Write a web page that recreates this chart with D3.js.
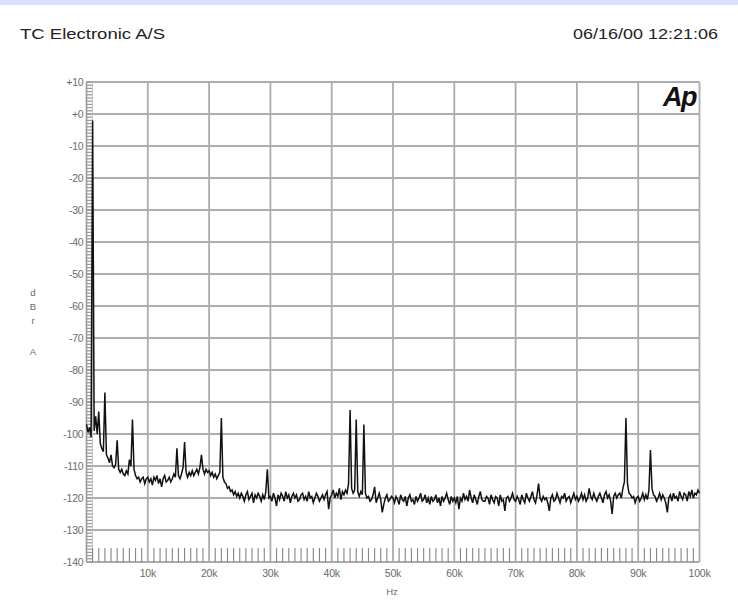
<!DOCTYPE html>
<html>
<head>
<meta charset="utf-8">
<script src="https://cdn.jsdelivr.net/npm/d3@7"></script>
<style>
  html, body { margin: 0; padding: 0; background: #fff; }
  svg { display: block; }
</style>
</head>
<body>
<svg id="chart" width="738" height="600"></svg>
<script>
// ---------- data ----------
const headerLeft = "TC Electronic A/S";
const headerRight = "06/16/00 12:21:06";
const yAxisTitle = ["d", "B", "r", "A"];
const xAxisTitle = "Hz";
const yTicks = [10, 0, -10, -20, -30, -40, -50, -60, -70, -80, -90, -100, -110, -120, -130, -140];
const yTickLabels = ["+10", "+0", "-10", "-20", "-30", "-40", "-50", "-60", "-70", "-80", "-90", "-100", "-110", "-120", "-130", "-140"];
const xTicks = [10, 20, 30, 40, 50, 60, 70, 80, 90, 100];           // kHz
const xTickLabels = ["10k", "20k", "30k", "40k", "50k", "60k", "70k", "80k", "90k", "100k"];
const freqStartKHz = 0;
const freqStepKHz = 0.25;
// FFT level (dBrA), one value per 0.25 kHz bin, 0 .. 100 kHz
const levels = [
  -97, -99.5, -98, -101, -2, -99, -94.5, -100, -93, -103, -104.5, -105.5, -87, -106.5, -107.5, -109, -106.5, -110, -110.5, -109.5,
  -102, -111, -112, -111, -112.5, -113, -111.5, -112.5, -108, -110, -95.5, -111, -113, -114, -113.5, -115, -114, -113.5, -115.5, -114,
  -113.5, -115, -114, -116, -113.5, -114.5, -113, -115.5, -114, -116.5, -114, -113, -115, -114.5, -113.5, -115, -114, -112.5, -113.5, -104.5,
  -113, -114, -112.5, -110.5, -102.5, -112, -113.5, -112, -113, -111.5, -113, -112, -111, -112.5, -110.5, -106.5, -111, -112.5, -111, -112,
  -111.5, -113, -112, -113.5, -112.5, -114, -113, -112, -95, -113.5, -115, -115.5, -117, -116.5, -118, -117.5, -119, -118, -119.5, -118.5,
  -120, -118.5, -119.5, -121, -119, -118, -120.5, -119.5, -118.5, -121.5, -119, -120, -118.5, -119.5, -121, -119, -120.5, -118, -111, -120,
  -119.5, -121, -118.5, -120, -122.5, -119, -120.5, -118.5, -119.5, -121, -118, -120, -119, -121.5, -119.5, -118.5, -120, -119, -121, -120.5,
  -119, -118.5, -120.5, -119.5, -121, -118, -120, -119.5, -121.5, -120, -118.5, -119.5, -121, -120, -119, -120.5, -119, -118, -123.5, -120,
  -119, -117.5, -120, -118.5, -119.5, -117, -120.5, -118, -119, -117.5, -118.5, -115.5, -92.5, -117, -118.5, -117.5, -95.5, -118, -119.5, -118,
  -119, -97, -118.5, -120, -119.5, -121, -120.5, -119, -116.5, -121.5, -120, -118.5, -120.5, -124.5, -122, -120, -119, -121, -120.5, -119.5,
  -120, -121.5, -119.5, -120.5, -122, -119, -120.5, -121, -119.5, -122.5, -120, -119, -121, -120.5, -122, -119.5, -121, -120, -118.5, -121,
  -120.5, -119, -121.5, -120, -122, -119.5, -121, -120.5, -119, -121.5, -120, -122.5, -119.5, -121, -120, -118.5, -120.5, -122, -119.5, -121,
  -120, -121.5, -119.5, -123.5, -120, -121, -118.5, -120.5, -119.5, -121, -117.5, -120, -121.5, -119, -120.5, -122, -119.5, -118, -120.5, -121,
  -121, -119.5, -120, -122, -119, -120.5, -121.5, -119.5, -120, -122.5, -119, -121, -120.5, -124, -120, -119.5, -121, -120, -118.5, -120.5,
  -121, -119.5, -120.5, -122, -119, -120.5, -121.5, -118.5, -120, -121, -119.5, -118, -120.5, -121.5, -119, -115.5, -120, -121, -119.5, -120.5,
  -120, -121.5, -124, -120, -119, -121, -120.5, -118.5, -120, -121.5, -119.5, -120, -118.5, -121, -120, -119.5, -121.5, -120, -118.5, -120.5,
  -119.5, -121, -120, -118.5, -120.5, -119, -121, -120, -117, -119.5, -120.5, -118.5, -120, -121, -119.5, -118.5, -120, -121.5, -119, -118,
  -120, -119, -121, -125, -119.5, -118.5, -120, -119, -118.5, -120, -117, -115, -95, -115.5, -118.5, -119, -120, -119.5, -121.5, -120,
  -119.5, -121, -120, -118.5, -120.5, -119, -120.5, -117.5, -105, -117, -119, -119.5, -121, -120, -118.5, -120.5, -119, -120, -121.5, -124.5,
  -120, -119, -121, -118.5, -120, -119.5, -121, -118, -119.5, -120.5, -118.5, -119, -121, -118, -119.5, -117.5, -120, -118.5, -119, -117.5,
  -118.5
];
const points = levels.map((v, i) => ({ f: freqStartKHz + i * freqStepKHz, v }));

// ---------- layout ----------
const W = 738, H = 600;
const plot = { left: 86.5, right: 699.5, top: 82, bottom: 562 };
const svg = d3.select("#chart");
const font = "'Liberation Sans', Arial, Helvetica, sans-serif";

// top lavender strip
svg.append("rect").attr("x", 0).attr("y", 0).attr("width", W).attr("height", 5).attr("fill", "#dcdcfb");

// header
svg.append("text").attr("x", 20).attr("y", 39).text(headerLeft)
  .attr("font-family", font).attr("font-size", 15).attr("fill", "#222")
  .attr("textLength", 145).attr("lengthAdjust", "spacingAndGlyphs");
svg.append("text").attr("x", 573).attr("y", 39).text(headerRight)
  .attr("font-family", font).attr("font-size", 15).attr("fill", "#222")
  .attr("textLength", 145).attr("lengthAdjust", "spacingAndGlyphs");

const x = d3.scaleLinear().domain([0, 100]).range([plot.left, plot.right]);
const y = d3.scaleLinear().domain([-140, 10]).range([plot.bottom, plot.top]);

const grid = svg.append("g");
// horizontal gridlines
grid.selectAll("line.h").data(yTicks).join("line")
  .attr("x1", plot.left).attr("x2", plot.right)
  .attr("y1", d => y(d)).attr("y2", d => y(d))
  .attr("stroke", "#acacac").attr("stroke-width", 1.8);
// vertical gridlines
grid.selectAll("line.v").data(xTicks).join("line")
  .attr("x1", d => x(d)).attr("x2", d => x(d))
  .attr("y1", plot.top).attr("y2", plot.bottom)
  .attr("stroke", "#acacac").attr("stroke-width", 1.8);
// left border
grid.append("line").attr("x1", plot.left).attr("x2", plot.left).attr("y1", plot.top).attr("y2", plot.bottom)
  .attr("stroke", "#999").attr("stroke-width", 1.6);

// minor ticks along left edge (every 1 dB)
grid.selectAll("line.my").data(d3.range(-140, 10.001, 1)).join("line")
  .attr("x1", plot.left).attr("x2", plot.left + 6)
  .attr("y1", d => y(d)).attr("y2", d => y(d))
  .attr("stroke", "#9c9c9c").attr("stroke-width", 1.3);
grid.append("line").attr("x1", plot.left + 6).attr("x2", plot.left + 6).attr("y1", plot.top).attr("y2", plot.bottom)
  .attr("stroke", "#c4c4c4").attr("stroke-width", 1);
// minor ticks along bottom edge (every 1 kHz)
grid.selectAll("line.mx").data(d3.range(1, 100, 1).filter(d => d % 10 !== 0)).join("line")
  .attr("x1", d => x(d)).attr("x2", d => x(d))
  .attr("y1", plot.bottom - 14).attr("y2", plot.bottom)
  .attr("stroke", "#858585").attr("stroke-width", 1.1);

// y tick labels
svg.append("g").selectAll("text").data(yTicks).join("text")
  .attr("x", plot.left - 3).attr("y", d => y(d) + 3.5)
  .attr("text-anchor", "end").text((d, i) => yTickLabels[i])
  .attr("font-family", font).attr("font-size", 10.5).attr("fill", "#6a6a6a").attr("letter-spacing", -0.2);
// x tick labels
svg.append("g").selectAll("text").data(xTicks).join("text")
  .attr("x", d => x(d)).attr("y", plot.bottom + 15)
  .attr("text-anchor", "middle").text((d, i) => xTickLabels[i])
  .attr("font-family", font).attr("font-size", 10.5).attr("fill", "#6a6a6a").attr("letter-spacing", -0.2);
// x axis title
svg.append("text").attr("x", x(50) - 1).attr("y", plot.bottom + 33).attr("text-anchor", "middle")
  .text(xAxisTitle).attr("font-family", font).attr("font-size", 9.5).attr("fill", "#6a6a6a");
// y axis title (stacked letters)
const yTitleY = [296, 310, 324, 355];
svg.append("g").selectAll("text").data(yAxisTitle).join("text")
  .attr("x", 33).attr("y", (d, i) => yTitleY[i]).attr("text-anchor", "middle")
  .text(d => d).attr("font-family", font).attr("font-size", 9.5).attr("fill", "#6a6a6a");

// Ap logo
svg.append("text").attr("x", 696).attr("y", 106).attr("text-anchor", "end").text("Ap")
  .attr("font-family", font).attr("font-size", 27).attr("font-weight", "bold").attr("font-style", "italic")
  .attr("fill", "#111").attr("letter-spacing", -1.5);

// trace
const line = d3.line().x(d => x(d.f)).y(d => y(d.v));
svg.append("path").datum(points).attr("d", line)
  .attr("fill", "none").attr("stroke", "#111").attr("stroke-width", 1.5).attr("stroke-linejoin", "miter");
</script>
</body>
</html>
